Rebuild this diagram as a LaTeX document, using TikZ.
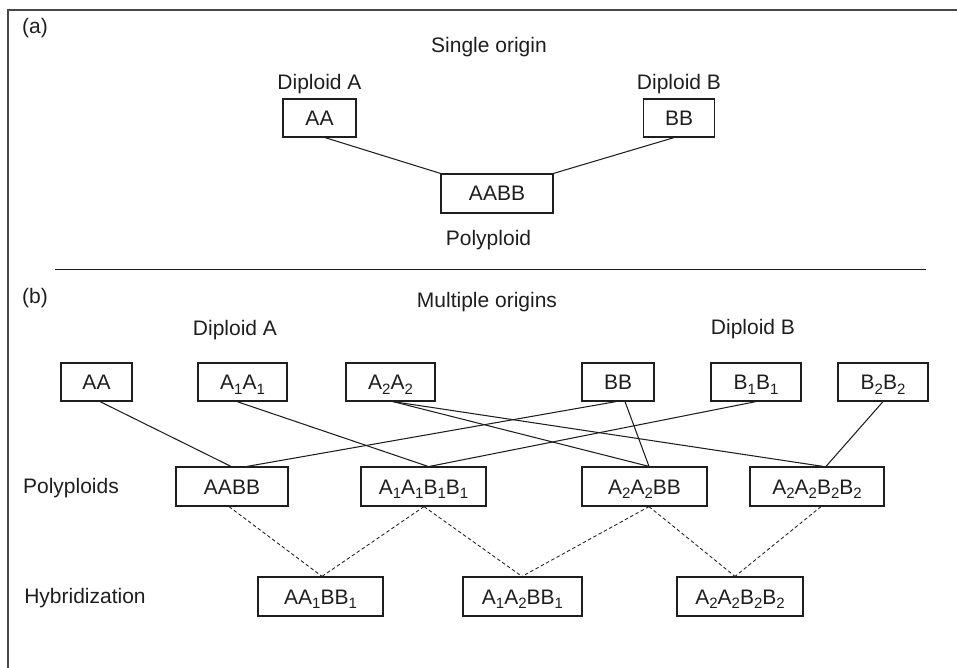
\documentclass[tikz,border=0pt]{standalone}
\usepackage{fontspec}
\setmainfont{Liberation Sans}
\usetikzlibrary{calc}
% lowered index digit used in the genome formulas
\newcommand{\low}[1]{\raisebox{-4.5pt}{\fontsize{15}{15}\selectfont #1}}
\definecolor{ink}{HTML}{1E1E1E}
\tikzset{
  gbox/.style={draw=ink, line width=1.2pt, inner sep=0pt, text=ink,
    text height=15pt, text depth=0pt, minimum height=38pt},
  lbl/.style={text=ink, inner sep=0pt, anchor=base},
  link/.style={draw=ink, line width=1.05pt},
  hlink/.style={draw=ink, line width=0.85pt, dash pattern=on 3.5pt off 2.5pt},
}
\begin{document}
\begin{tikzpicture}[x=1pt, y=-1pt, font=\fontsize{21}{25}\selectfont]
\useasboundingbox (0,0) rectangle (957,668);

% outer frame: top and left edges only
\draw[line width=1.6pt, black!72] (957,10) -- (8,10) -- (8,668);

% ---------- (a) single origin ----------
\node[lbl] (tagA) at (35,34) {(a)};
\node[lbl] (single) at (489,53) {Single origin};
\node[lbl] (dipAa) at (319.5,90) {Diploid A};
\node[lbl] (dipBa) at (679,90) {Diploid B};
\node[gbox, minimum width=73pt] (AAa) at (319.5,118) {AA};
\node[gbox, minimum width=71pt] (BBa) at (679,118) {BB};
\node[gbox, minimum width=112pt, minimum height=39pt] (AABBa) at (497,193.5) {AABB};
\node[lbl] (poly) at (488.5,245) {Polyploid};
\draw[link] ($(AAa.south)+(5.5,0)$) -- (AABBa.north west);
\draw[link] ($(BBa.south)+(-5,0)$) -- (AABBa.north east);

% separator between the two panels
\coordinate (sepL) at (55,269);
\coordinate (sepR) at (926,269);
\draw[line width=1pt, ink] (sepL) -- (sepR);

% ---------- (b) multiple origins ----------
\node[lbl] (tagB) at (35,303) {(b)};
\node[lbl] (multi) at (487,307) {Multiple origins};
\node[lbl] (dipAb) at (235,335) {Diploid A};
\node[lbl] (dipBb) at (753,334) {Diploid B};

% diploid progenitors
\node[gbox, minimum width=71pt] (AA) at (96.5,382) {AA};
\node[gbox, minimum width=89pt] (A1A1) at (242.5,382) {A\low1A\low1};
\node[gbox, minimum width=89pt] (A2A2) at (390.5,382) {A\low2A\low2};
\node[gbox, minimum width=72pt] (BB) at (618,382) {BB};
\node[gbox, minimum width=90pt] (B1B1) at (756,382) {B\low1B\low1};
\node[gbox, minimum width=90pt] (B2B2) at (883,382) {B\low2B\low2};

% polyploids
\node[lbl] (polys) at (71,493) {Polyploids};
\node[gbox, minimum width=112pt, minimum height=39pt] (P1) at (232,486.5) {AABB};
\node[gbox, minimum width=125pt, minimum height=39pt] (P2) at (423.5,486.5) {A\low1A\low1B\low1B\low1};
\node[gbox, minimum width=125pt, minimum height=39pt] (P3) at (644.5,486.5) {A\low2A\low2BB};
\node[gbox, minimum width=134pt, minimum height=39pt] (P4) at (817,486.5) {A\low2A\low2B\low2B\low2};

% hybrids
\node[lbl] (hyb) at (85,603) {Hybridization};
\node[gbox, minimum width=125pt, minimum height=39pt] (H1) at (320.5,596.5) {AA\low1BB\low1};
\node[gbox, minimum width=119pt, minimum height=39pt] (H2) at (522.5,596.5) {A\low1A\low2BB\low1};
\node[gbox, minimum width=126pt, minimum height=39pt] (H3) at (740,596.5) {A\low2A\low2B\low2B\low2};

% origins of the polyploids
\draw[link] ($(AA.south)+(3.5,0)$) -- ($(P1.north)+(-1,0)$);
\draw[link] ($(A1A1.south)+(-5.5,0)$) -- ($(P2.north)+(4.5,0)$);
\draw[link] ($(A2A2.south)+(2.5,0)$) -- ($(P3.north)+(4.5,0)$);
\draw[link] ($(A2A2.south)+(2.5,0)$) -- ($(P4.north)+(6,0)$);
\draw[link] ($(BB.south)+(-2,0)$) -- ($(P1.north)+(15,0)$);
\draw[link] ($(BB.south)+(7,0)$) -- ($(P3.north)+(4.5,0)$);
\draw[link] (B1B1.south) -- ($(P2.north)+(6,0)$);
\draw[link] (B2B2.south) -- ($(P4.north)+(9,0)$);

% hybridization between polyploids
\draw[hlink] ($(P1.south)+(-3,0)$) -- ($(H1.north)+(1.5,0)$);
\draw[hlink] ($(P2.south)+(0.5,0)$) -- ($(H1.north)+(1.5,0)$);
\draw[hlink] ($(P2.south)+(0.5,0)$) -- ($(H2.north)+(-0.5,0)$);
\draw[hlink] ($(P3.south)+(4.5,0)$) -- ($(H2.north)+(-0.5,0)$);
\draw[hlink] ($(P3.south)+(4.5,0)$) -- ($(H3.north)+(-5,0)$);
\draw[hlink] ($(P4.south)+(4,0)$) -- ($(H3.north)+(-5,0)$);
\end{tikzpicture}
\end{document}
